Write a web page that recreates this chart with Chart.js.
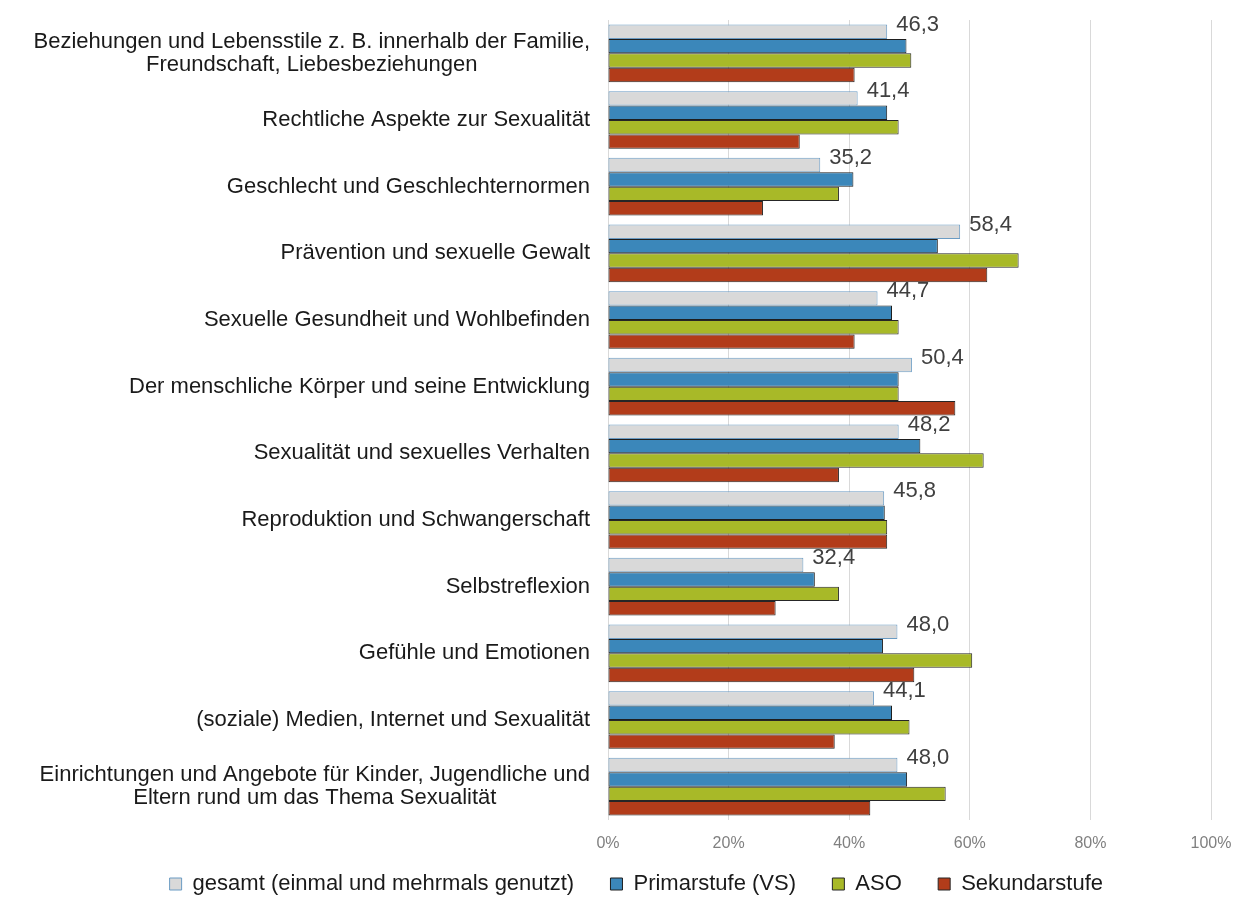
<!DOCTYPE html>
<html>
<head>
<meta charset="utf-8">
<script src="https://cdn.jsdelivr.net/npm/chart.js@4/dist/chart.umd.min.js"></script>
<style>
  html, body { margin: 0; padding: 0; background: #fff; }
</style>
</head>
<body>
<canvas id="themenChart" width="1235" height="897"></canvas>
<script>
const categories = [
  ["Beziehungen und Lebensstile z. B. innerhalb der Familie,", "Freundschaft, Liebesbeziehungen"],
  "Rechtliche Aspekte zur Sexualität",
  "Geschlecht und Geschlechternormen",
  "Prävention und sexuelle Gewalt",
  "Sexuelle Gesundheit und Wohlbefinden",
  "Der menschliche Körper und seine Entwicklung",
  "Sexualität und sexuelles Verhalten",
  "Reproduktion und Schwangerschaft",
  "Selbstreflexion",
  "Gefühle und Emotionen",
  "(soziale) Medien, Internet und Sexualität",
  ["Einrichtungen und Angebote für Kinder, Jugendliche und", "Eltern rund um das Thema Sexualität"]
];

const seriesNames = ["gesamt (einmal und mehrmals genutzt)", "Primarstufe (VS)", "ASO", "Sekundarstufe"];

const gesamt = [46.3, 41.4, 35.2, 58.4, 44.7, 50.4, 48.2, 45.8, 32.4, 48.0, 44.1, 48.0];
const primarstufe = [49.5, 46.3, 40.7, 54.7, 47.1, 48.2, 51.8, 45.9, 34.3, 45.6, 47.1, 49.6];
const aso = [50.3, 48.2, 38.3, 68.1, 48.2, 48.2, 62.3, 46.3, 38.3, 60.4, 50.0, 56.0];
const sekundarstufe = [40.9, 31.8, 25.7, 62.9, 40.9, 57.6, 38.3, 46.3, 27.8, 50.8, 37.6, 43.5];

const xTicks = [0, 20, 40, 60, 80, 100];

const FONT = '"Liberation Sans", Arial, sans-serif';
Chart.defaults.font.family = FONT;

// value labels only for the "gesamt" series, German decimal comma
const gesamtLabels = {
  id: "gesamtLabels",
  afterDatasetsDraw(chart) {
    const ctx = chart.ctx;
    const meta = chart.getDatasetMeta(0);
    ctx.save();
    ctx.font = "22px " + FONT;
    ctx.fillStyle = "#404040";
    ctx.textAlign = "left";
    ctx.textBaseline = "middle";
    meta.data.forEach((bar, i) => {
      const top = bar.y - bar.height / 2;
      ctx.fillText(gesamt[i].toFixed(1).replace(".", ","), bar.x + 9, top);
    });
    ctx.restore();
  }
};

// category labels: block right-aligned, lines centred inside the block
const categoryLabels = {
  id: "categoryLabels",
  afterDraw(chart) {
    const ctx = chart.ctx;
    const y = chart.scales.y;
    const right = chart.chartArea.left - 18;
    ctx.save();
    ctx.font = "22px " + FONT;
    ctx.fillStyle = "#1a1a1a";
    ctx.textAlign = "center";
    ctx.textBaseline = "middle";
    categories.forEach((label, i) => {
      const lines = Array.isArray(label) ? label : [label];
      const w = Math.max(...lines.map((l) => ctx.measureText(l).width));
      const cx = right - w / 2;
      const cy = y.getPixelForTick(i);
      lines.forEach((l, j) => {
        ctx.fillText(l, cx, cy + (j - (lines.length - 1) / 2) * 23);
      });
    });
    ctx.restore();
  }
};

new Chart(document.getElementById("themenChart"), {
  type: "bar",
  data: {
    labels: categories,
    datasets: [
      { label: seriesNames[0], data: gesamt, backgroundColor: "#d9d9d9", borderColor: "#6a9bc3" },
      { label: seriesNames[1], data: primarstufe, backgroundColor: "#3b87ba", borderColor: "#1e1e1e" },
      { label: seriesNames[2], data: aso, backgroundColor: "#a8b928", borderColor: "#262626" },
      { label: seriesNames[3], data: sekundarstufe, backgroundColor: "#b23c1a", borderColor: "#262626" }
    ]
  },
  options: {
    indexAxis: "y",
    responsive: false,
    animation: false,
    layout: { padding: { top: 20, left: 80, right: 24, bottom: 0 } },
    datasets: {
      bar: {
        borderWidth: 1,
        borderSkipped: false,
        categoryPercentage: 0.866,
        barPercentage: 1
      }
    },
    scales: {
      x: {
        min: 0,
        max: 100,
        afterBuildTicks: (s) => { s.ticks = xTicks.map((v) => ({ value: v })); },
        afterFit: (s) => {
          s.height = 35;
          s.paddingLeft = 0;
          s.paddingRight = 0;
        },
        ticks: {
          callback: (v) => v + "%",
          color: "#808080",
          font: { size: 16 },
          padding: 14
        },
        grid: { color: "#d9d9d9", drawTicks: false },
        border: { display: false }
      },
      y: {
        afterFit: (s) => { s.width = 528; },
        ticks: { display: false },
        grid: { display: false, drawTicks: false },
        border: { display: false }
      }
    },
    plugins: {
      legend: {
        position: "bottom",
        maxHeight: 42,
        labels: {
          boxWidth: 12,
          boxHeight: 12,
          padding: 18,
          color: "#1a1a1a",
          font: { size: 22 },
          generateLabels: (chart) =>
            Chart.defaults.plugins.legend.labels.generateLabels(chart).map((item) => {
              item.text = item.text + "   ";
              return item;
            })
        }
      },
      tooltip: { enabled: false }
    }
  },
  plugins: [gesamtLabels, categoryLabels]
});
</script>
</body>
</html>
